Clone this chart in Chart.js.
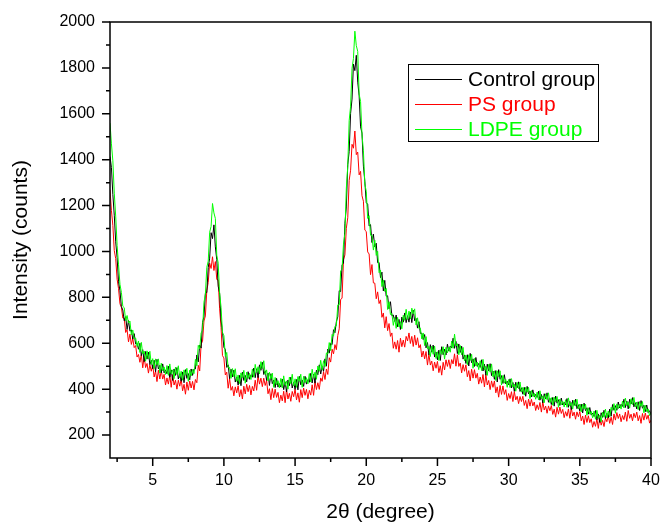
<!DOCTYPE html>
<html>
<head>
<meta charset="utf-8">
<script src="https://cdn.jsdelivr.net/npm/chart.js@4.4.1/dist/chart.umd.min.js"></script>
<style>
  html, body { margin: 0; padding: 0; background: #fff; }
  #xrd { display: block; }
</style>
</head>
<body>
<canvas id="xrd" width="660" height="523"></canvas>
<script>
// 2theta sampling (degree), one row = 2 degrees
const theta = [
  2, 2.1, 2.2, 2.3, 2.4, 2.5, 2.6, 2.7, 2.8, 2.9, 3, 3.1, 3.2, 3.3, 3.4, 3.5, 3.6, 3.7, 3.8, 3.9,
  4, 4.1, 4.2, 4.3, 4.4, 4.5, 4.6, 4.7, 4.8, 4.9, 5, 5.1, 5.2, 5.3, 5.4, 5.5, 5.6, 5.7, 5.8, 5.9,
  6, 6.1, 6.2, 6.3, 6.4, 6.5, 6.6, 6.7, 6.8, 6.9, 7, 7.1, 7.2, 7.3, 7.4, 7.5, 7.6, 7.7, 7.8, 7.9,
  8, 8.1, 8.2, 8.3, 8.4, 8.5, 8.6, 8.7, 8.8, 8.9, 9, 9.1, 9.2, 9.3, 9.4, 9.5, 9.6, 9.7, 9.8, 9.9,
  10, 10.1, 10.2, 10.3, 10.4, 10.5, 10.6, 10.7, 10.8, 10.9, 11, 11.1, 11.2, 11.3, 11.4, 11.5, 11.6, 11.7, 11.8, 11.9,
  12, 12.1, 12.2, 12.3, 12.4, 12.5, 12.6, 12.7, 12.8, 12.9, 13, 13.1, 13.2, 13.3, 13.4, 13.5, 13.6, 13.7, 13.8, 13.9,
  14, 14.1, 14.2, 14.3, 14.4, 14.5, 14.6, 14.7, 14.8, 14.9, 15, 15.1, 15.2, 15.3, 15.4, 15.5, 15.6, 15.7, 15.8, 15.9,
  16, 16.1, 16.2, 16.3, 16.4, 16.5, 16.6, 16.7, 16.8, 16.9, 17, 17.1, 17.2, 17.3, 17.4, 17.5, 17.6, 17.7, 17.8, 17.9,
  18, 18.1, 18.2, 18.3, 18.4, 18.5, 18.6, 18.7, 18.8, 18.9, 19, 19.1, 19.2, 19.3, 19.4, 19.5, 19.6, 19.7, 19.8, 19.9,
  20, 20.1, 20.2, 20.3, 20.4, 20.5, 20.6, 20.7, 20.8, 20.9, 21, 21.1, 21.2, 21.3, 21.4, 21.5, 21.6, 21.7, 21.8, 21.9,
  22, 22.1, 22.2, 22.3, 22.4, 22.5, 22.6, 22.7, 22.8, 22.9, 23, 23.1, 23.2, 23.3, 23.4, 23.5, 23.6, 23.7, 23.8, 23.9,
  24, 24.1, 24.2, 24.3, 24.4, 24.5, 24.6, 24.7, 24.8, 24.9, 25, 25.1, 25.2, 25.3, 25.4, 25.5, 25.6, 25.7, 25.8, 25.9,
  26, 26.1, 26.2, 26.3, 26.4, 26.5, 26.6, 26.7, 26.8, 26.9, 27, 27.1, 27.2, 27.3, 27.4, 27.5, 27.6, 27.7, 27.8, 27.9,
  28, 28.1, 28.2, 28.3, 28.4, 28.5, 28.6, 28.7, 28.8, 28.9, 29, 29.1, 29.2, 29.3, 29.4, 29.5, 29.6, 29.7, 29.8, 29.9,
  30, 30.1, 30.2, 30.3, 30.4, 30.5, 30.6, 30.7, 30.8, 30.9, 31, 31.1, 31.2, 31.3, 31.4, 31.5, 31.6, 31.7, 31.8, 31.9,
  32, 32.1, 32.2, 32.3, 32.4, 32.5, 32.6, 32.7, 32.8, 32.9, 33, 33.1, 33.2, 33.3, 33.4, 33.5, 33.6, 33.7, 33.8, 33.9,
  34, 34.1, 34.2, 34.3, 34.4, 34.5, 34.6, 34.7, 34.8, 34.9, 35, 35.1, 35.2, 35.3, 35.4, 35.5, 35.6, 35.7, 35.8, 35.9,
  36, 36.1, 36.2, 36.3, 36.4, 36.5, 36.6, 36.7, 36.8, 36.9, 37, 37.1, 37.2, 37.3, 37.4, 37.5, 37.6, 37.7, 37.8, 37.9,
  38, 38.1, 38.2, 38.3, 38.4, 38.5, 38.6, 38.7, 38.8, 38.9, 39, 39.1, 39.2, 39.3, 39.4, 39.5, 39.6, 39.7, 39.8, 39.9,
  40
];

const controlCounts = [
  1414, 1366, 1248, 1158, 1042, 973, 868, 829, 760, 745, 698, 716, 660, 699, 653, 658, 618, 642, 597, 600,
  574, 600, 546, 572, 520, 564, 531, 561, 507, 526, 489, 526, 476, 530, 488, 504, 471, 510, 471, 484,
  467, 500, 452, 484, 438, 488, 460, 494, 444, 467, 434, 475, 428, 485, 447, 468, 441, 488, 460, 488,
  488, 549, 519, 592, 579, 691, 715, 818, 821, 930, 971, 1082, 1056, 1116, 1020, 964, 848, 819, 701, 650,
  582, 574, 495, 506, 446, 487, 453, 483, 431, 452, 418, 460, 415, 474, 438, 460, 432, 476, 443, 462,
  452, 492, 450, 489, 450, 506, 482, 517, 464, 480, 438, 470, 416, 467, 424, 440, 407, 447, 409, 424,
  409, 444, 398, 432, 388, 440, 415, 452, 405, 430, 399, 442, 397, 456, 419, 440, 412, 456, 422, 441,
  430, 469, 427, 465, 426, 483, 463, 506, 466, 499, 478, 532, 500, 575, 557, 600, 594, 659, 646, 694,
  715, 829, 825, 941, 950, 1123, 1194, 1378, 1436, 1602, 1664, 1817, 1788, 1855, 1738, 1678, 1543, 1516, 1372, 1306,
  1213, 1206, 1111, 1117, 1039, 1076, 1020, 1036, 951, 952, 886, 910, 828, 874, 805, 807, 750, 781, 720, 723,
  695, 723, 672, 704, 660, 714, 692, 732, 690, 720, 692, 736, 690, 744, 698, 708, 666, 694, 643, 644,
  616, 638, 580, 603, 550, 594, 561, 592, 540, 562, 528, 570, 525, 585, 550, 574, 549, 596, 566, 588,
  580, 622, 578, 608, 555, 597, 560, 587, 531, 549, 512, 550, 501, 556, 515, 532, 499, 538, 499, 512,
  495, 528, 479, 509, 461, 509, 479, 511, 459, 479, 443, 481, 431, 485, 443, 459, 425, 463, 423, 435,
  419, 445, 405, 429, 391, 430, 406, 432, 390, 406, 378, 408, 369, 412, 379, 392, 366, 397, 366, 377,
  364, 391, 352, 377, 340, 380, 357, 384, 343, 360, 333, 364, 326, 370, 339, 354, 329, 361, 331, 343,
  331, 359, 321, 347, 311, 352, 329, 356, 315, 332, 305, 335, 296, 339, 306, 319, 291, 320, 287, 296,
  281, 307, 267, 292, 255, 297, 277, 308, 272, 295, 275, 313, 282, 333, 308, 328, 308, 344, 318, 334,
  325, 356, 320, 348, 314, 356, 335, 363, 323, 341, 314, 345, 307, 350, 317, 330, 302, 331, 298, 306,
  290
];

const psCounts = [
  1269, 1179, 1114, 1004, 969, 879, 838, 772, 757, 710, 710, 647, 659, 606, 640, 595, 621, 581, 590, 540,
  551, 517, 551, 493, 543, 494, 512, 470, 507, 478, 505, 453, 479, 433, 483, 444, 481, 444, 465, 418,
  449, 422, 461, 408, 463, 418, 439, 400, 439, 413, 443, 393, 421, 378, 431, 395, 436, 405, 434, 397,
  442, 428, 504, 479, 598, 608, 697, 719, 829, 865, 949, 926, 977, 917, 956, 878, 876, 750, 669, 546,
  536, 462, 474, 404, 447, 395, 412, 371, 410, 384, 415, 367, 398, 357, 413, 379, 421, 389, 416, 375,
  412, 392, 439, 395, 459, 422, 448, 411, 448, 416, 438, 380, 402, 354, 403, 363, 400, 364, 386, 341,
  374, 349, 391, 341, 399, 357, 382, 347, 390, 367, 400, 353, 384, 343, 398, 363, 405, 373, 399, 358,
  395, 374, 419, 373, 435, 398, 428, 399, 449, 434, 476, 442, 488, 464, 537, 518, 574, 554, 594, 572,
  634, 663, 791, 796, 963, 985, 1101, 1147, 1310, 1354, 1467, 1450, 1525, 1422, 1433, 1334, 1349, 1243, 1219, 1093,
  1087, 998, 989, 899, 943, 863, 862, 794, 824, 773, 789, 713, 732, 667, 716, 655, 686, 630, 645, 578,
  606, 574, 612, 561, 622, 585, 614, 583, 630, 610, 645, 599, 630, 586, 635, 592, 624, 580, 594, 540,
  566, 532, 564, 505, 554, 505, 522, 480, 518, 491, 521, 472, 502, 461, 517, 484, 528, 499, 528, 490,
  529, 510, 554, 500, 550, 499, 514, 471, 507, 478, 506, 454, 481, 436, 487, 448, 485, 448, 469, 422,
  453, 426, 464, 410, 464, 418, 438, 398, 436, 408, 436, 384, 410, 365, 416, 377, 414, 377, 398, 351,
  381, 359, 389, 346, 390, 353, 369, 337, 368, 346, 369, 329, 351, 315, 357, 326, 356, 327, 344, 307,
  332, 311, 342, 300, 345, 309, 326, 295, 327, 306, 329, 290, 313, 278, 321, 291, 322, 294, 312, 276,
  302, 282, 314, 273, 319, 283, 300, 269, 301, 280, 303, 262, 283, 246, 287, 255, 284, 254, 271, 234,
  259, 238, 270, 229, 276, 243, 264, 237, 274, 258, 286, 251, 278, 246, 292, 265, 298, 272, 292, 258,
  285, 267, 300, 260, 307, 273, 291, 262, 295, 276, 300, 262, 285, 251, 294, 265, 296, 269, 287, 252,
  265
];

const ldpeCounts = [
  1559, 1469, 1395, 1254, 1154, 1026, 942, 857, 822, 761, 755, 699, 721, 688, 697, 636, 658, 619, 623, 586,
  610, 560, 604, 554, 566, 522, 567, 531, 565, 508, 533, 490, 532, 506, 532, 470, 513, 480, 497, 464,
  503, 460, 510, 466, 484, 446, 496, 464, 502, 449, 478, 439, 484, 461, 491, 434, 483, 458, 486, 468,
  530, 502, 591, 576, 645, 656, 779, 813, 931, 958, 1084, 1109, 1209, 1168, 1144, 984, 949, 818, 757, 646,
  633, 543, 560, 493, 495, 447, 490, 454, 489, 434, 462, 424, 471, 450, 482, 426, 474, 446, 469, 442,
  488, 452, 508, 472, 498, 466, 520, 489, 524, 464, 484, 436, 474, 445, 470, 408, 451, 419, 437, 406,
  447, 406, 458, 416, 436, 400, 453, 424, 465, 414, 445, 408, 455, 434, 465, 408, 456, 428, 450, 423,
  468, 431, 487, 449, 474, 443, 501, 478, 526, 483, 524, 498, 558, 553, 603, 568, 638, 631, 674, 676,
  767, 767, 915, 922, 1032, 1078, 1276, 1371, 1571, 1633, 1798, 1841, 1960, 1897, 1872, 1685, 1654, 1509, 1439, 1294,
  1262, 1144, 1156, 1071, 1070, 1006, 1049, 983, 1001, 908, 919, 847, 876, 826, 839, 747, 781, 725, 730, 678,
  713, 665, 713, 671, 694, 663, 722, 700, 748, 704, 740, 706, 753, 728, 750, 680, 711, 664, 666, 619,
  645, 590, 629, 576, 586, 542, 587, 552, 588, 534, 563, 525, 572, 552, 585, 531, 582, 558, 584, 561,
  610, 578, 640, 588, 598, 550, 590, 550, 582, 524, 549, 507, 550, 525, 552, 491, 534, 501, 518, 485,
  524, 481, 530, 484, 500, 460, 508, 474, 510, 454, 480, 438, 480, 454, 480, 418, 460, 426, 442, 408,
  442, 407, 446, 409, 422, 391, 429, 402, 431, 387, 408, 374, 408, 387, 408, 359, 394, 368, 382, 356,
  387, 353, 393, 357, 371, 341, 380, 354, 384, 341, 363, 330, 365, 345, 368, 321, 357, 332, 347, 322,
  354, 321, 362, 327, 342, 313, 352, 326, 356, 313, 335, 301, 335, 314, 335, 286, 319, 291, 303, 275,
  304, 269, 308, 272, 286, 258, 300, 278, 313, 276, 305, 279, 321, 308, 337, 295, 336, 315, 334, 313,
  348, 318, 361, 328, 345, 317, 358, 333, 364, 322, 344, 311, 346, 325, 346, 297, 330, 302, 314, 285,
  295
];

const seriesNames = ["Control group", "PS group", "LDPE group"];
const seriesColors = ["#000000", "#ff0000", "#00ff00"];

const xMajorTicks = [5, 10, 15, 20, 25, 30, 35, 40];
const xMinorTicks = [2.5, 7.5, 12.5, 17.5, 22.5, 27.5, 32.5, 37.5];
const yMajorTicks = [200, 400, 600, 800, 1000, 1200, 1400, 1600, 1800, 2000];
const yMinorTicks = [300, 500, 700, 900, 1100, 1300, 1500, 1700, 1900];

Chart.defaults.font.family = "Arial, 'Liberation Sans', sans-serif";
Chart.defaults.color = "#000";

// box around plot + outward tick marks
const frameTicks = {
  id: "frameTicks",
  afterDatasetsDraw(chart) {
    const ctx = chart.ctx;
    const a = chart.chartArea;
    const xs = chart.scales.x;
    const ys = chart.scales.y;
    ctx.save();
    ctx.strokeStyle = "#000";
    ctx.lineWidth = 1.5;
    ctx.strokeRect(a.left, a.top, a.right - a.left, a.bottom - a.top);
    ctx.beginPath();
    xMajorTicks.forEach(function (v) {
      let px = xs.getPixelForValue(v);
      ctx.moveTo(px, a.bottom);
      ctx.lineTo(px, a.bottom + 8);
    });
    xMinorTicks.forEach(function (v) {
      let px = xs.getPixelForValue(v);
      ctx.moveTo(px, a.bottom);
      ctx.lineTo(px, a.bottom + 4);
    });
    yMajorTicks.forEach(function (v) {
      let py = ys.getPixelForValue(v);
      ctx.moveTo(a.left, py);
      ctx.lineTo(a.left - 8, py);
    });
    yMinorTicks.forEach(function (v) {
      let py = ys.getPixelForValue(v);
      ctx.moveTo(a.left, py);
      ctx.lineTo(a.left - 4, py);
    });
    ctx.stroke();
    ctx.restore();
  },
};

// boxed legend with coloured text
const boxLegend = {
  id: "boxLegend",
  afterDraw(chart) {
    const ctx = chart.ctx;
    ctx.save();
    ctx.fillStyle = "#fff";
    ctx.fillRect(408, 64, 190, 78);
    ctx.strokeStyle = "#000";
    ctx.lineWidth = 1;
    ctx.strokeRect(408.5, 64.5, 190, 77);
    ctx.font = "21px Arial, 'Liberation Sans', sans-serif";
    ctx.textBaseline = "middle";
    chart.data.datasets.forEach(function (ds, i) {
      let rowY = 79 + i * 25;
      ctx.strokeStyle = ds.borderColor;
      ctx.beginPath();
      ctx.moveTo(415, rowY + 0.5);
      ctx.lineTo(462, rowY + 0.5);
      ctx.stroke();
      ctx.fillStyle = ds.borderColor;
      ctx.fillText(ds.label, 468, rowY + 1);
    });
    ctx.restore();
  },
};

new Chart(document.getElementById("xrd").getContext("2d"), {
  type: "line",
  data: {
    labels: theta,
    datasets: [
      { label: seriesNames[0], data: controlCounts, borderColor: seriesColors[0], order: 1 },
      { label: seriesNames[1], data: psCounts, borderColor: seriesColors[1], order: 2 },
      { label: seriesNames[2], data: ldpeCounts, borderColor: seriesColors[2], order: 0 },
    ],
  },
  options: {
    responsive: false,
    animation: false,
    layout: { padding: { top: 22, right: 9, left: 0, bottom: 0 } },
    elements: {
      point: { radius: 0 },
      line: { borderWidth: 1, tension: 0 },
    },
    plugins: {
      legend: { display: false },
      tooltip: { enabled: false },
    },
    scales: {
      x: {
        type: "linear",
        min: 2,
        max: 40,
        afterBuildTicks: function (scale) {
          scale.ticks = xMajorTicks.map(function (v) { return { value: v }; });
        },
        afterFit: function (scale) {
          scale.height = 65;
          scale.paddingLeft = 0;
          scale.paddingRight = 0;
        },
        grid: { display: false, drawTicks: false },
        border: { display: false },
        ticks: { padding: 13, font: { size: 16 }, maxRotation: 0, autoSkip: false },
        title: {
          display: true,
          text: "2θ (degree)",
          font: { size: 21, lineHeight: 1 },
          padding: 0,
        },
      },
      y: {
        min: 100,
        max: 2000,
        afterBuildTicks: function (scale) {
          scale.ticks = yMajorTicks.map(function (v) { return { value: v }; });
        },
        afterFit: function (scale) {
          scale.width = 110;
          scale.paddingTop = 0;
          scale.paddingBottom = 0;
        },
        grid: { display: false, drawTicks: false },
        border: { display: false },
        ticks: {
          padding: 15,
          font: { size: 16 },
          autoSkip: false,
          callback: function (value) { return String(value); },
        },
        title: {
          display: true,
          text: "Intensity (counts)",
          font: { size: 21, lineHeight: 1 },
          padding: { top: 11, bottom: 0 },
        },
      },
    },
  },
  plugins: [frameTicks, boxLegend],
});
</script>
</body>
</html>
